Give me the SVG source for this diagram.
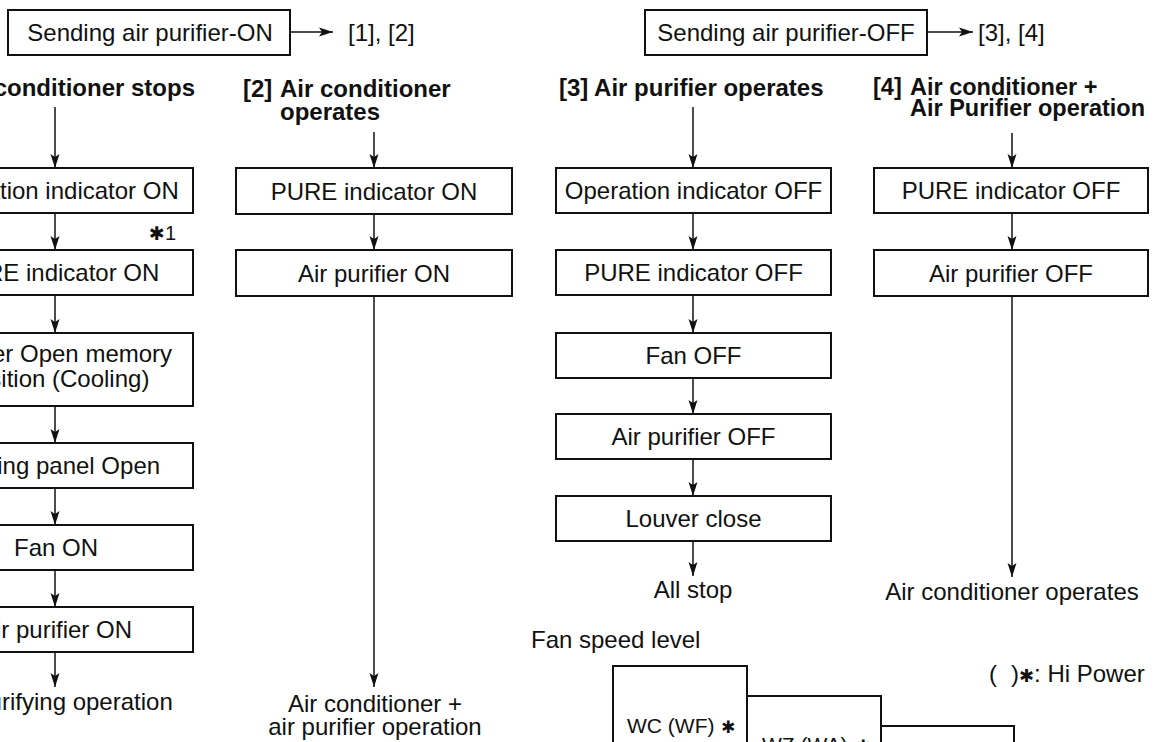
<svg xmlns="http://www.w3.org/2000/svg" width="1156" height="742" viewBox="0 0 1156 742">
<style>
text{font-family:"Liberation Sans",Arial,sans-serif;font-size:24px;fill:#111}
.b{font-weight:bold}
.c{text-anchor:middle}
.t4{font-size:23.5px}
.fs{font-size:21px}
.star{font-family:"DejaVu Sans",sans-serif;font-weight:bold}
rect.n{fill:#fff;stroke:#111;stroke-width:2}
.fan{fill:none;stroke:#111;stroke-width:2}
#connectors line{stroke:#111;stroke-width:1.5;fill:none;marker-end:url(#ah)}
</style>
<defs>
<marker id="ah" viewBox="0 0 16 12" markerWidth="16" markerHeight="12" refX="15" refY="6" orient="auto" markerUnits="userSpaceOnUse">
<path d="M15,6 L1,1.5 L4,6 L1,10.5 Z" fill="#111"/>
</marker>
</defs>
<rect width="1156" height="742" fill="#fff"/>

<g id="connectors">
<line x1="290" y1="32" x2="333" y2="32"/>
<line x1="927" y1="32" x2="973" y2="32"/>
<line x1="55" y1="107" x2="55" y2="168"/>
<line x1="55" y1="213" x2="55" y2="250"/>
<line x1="55" y1="295" x2="55" y2="333"/>
<line x1="55" y1="406" x2="55" y2="443"/>
<line x1="55" y1="488" x2="55" y2="525"/>
<line x1="55" y1="570" x2="55" y2="607"/>
<line x1="55" y1="652" x2="55" y2="687"/>
<line x1="374" y1="132" x2="374" y2="168"/>
<line x1="374" y1="214" x2="374" y2="250"/>
<line x1="374" y1="296" x2="374" y2="687"/>
<line x1="693" y1="107" x2="693" y2="168"/>
<line x1="693" y1="213" x2="693" y2="250"/>
<line x1="693" y1="295" x2="693" y2="333"/>
<line x1="693" y1="378" x2="693" y2="414"/>
<line x1="693" y1="459" x2="693" y2="496"/>
<line x1="693" y1="541" x2="693" y2="576"/>
<line x1="1012" y1="133" x2="1012" y2="168"/>
<line x1="1012" y1="213" x2="1012" y2="250"/>
<line x1="1012" y1="296" x2="1012" y2="577"/>
</g>

<g id="send-on"><rect class="n" x="8" y="10" width="282" height="45"/><text class="c" x="150" y="41">Sending air purifier-ON</text></g>
<g id="label-12"><text x="348" y="41">[1], [2]</text></g>
<g id="send-off"><rect class="n" x="645" y="10" width="282" height="45"/><text class="c" x="786" y="41">Sending air purifier-OFF</text></g>
<g id="label-34"><text x="978" y="41">[3], [4]</text></g>

<g id="c1-title"><text class="b" x="195" y="96" text-anchor="end">[1] Air conditioner stops</text></g>
<g id="c1-n1"><rect class="n" x="-83" y="168" width="276" height="45"/><text class="c" x="56" y="199">Operation indicator ON</text></g>
<g id="c1-note"><text x="149" y="240"><tspan class="star" font-size="19">✱</tspan><tspan font-size="20">1</tspan></text></g>
<g id="c1-n2"><rect class="n" x="-83" y="250" width="276" height="45"/><text class="c" x="56" y="280.5">PURE indicator ON</text></g>
<g id="c1-n3"><rect class="n" x="-83" y="333" width="276" height="73"/><text class="c" x="56" y="361.5">Louver Open memory</text><text class="c" x="56" y="386.5">position (Cooling)</text></g>
<g id="c1-n4"><rect class="n" x="-83" y="443" width="276" height="45"/><text class="c" x="56" y="473.5">Moving panel Open</text></g>
<g id="c1-n5"><rect class="n" x="-83" y="525" width="276" height="45"/><text class="c" x="56" y="556">Fan ON</text></g>
<g id="c1-n6"><rect class="n" x="-83" y="607" width="276" height="45"/><text class="c" x="56" y="638">Air purifier ON</text></g>
<g id="c1-end"><text class="c" x="56" y="710">Air purifying operation</text></g>

<g id="c2-title"><text class="b" y="97"><tspan x="243">[2]</tspan><tspan x="280">Air conditioner</tspan></text><text class="b" x="280" y="120">operates</text></g>
<g id="c2-n1"><rect class="n" x="236" y="168" width="276" height="46"/><text class="c" x="374" y="199.5">PURE indicator ON</text></g>
<g id="c2-n2"><rect class="n" x="236" y="250" width="276" height="46"/><text class="c" x="374" y="281.5">Air purifier ON</text></g>
<g id="c2-end"><text class="c" x="375" y="711.5">Air conditioner +</text><text class="c" x="375" y="735">air purifier operation</text></g>

<g id="c3-title"><text class="b" x="559" y="96">[3] Air purifier operates</text></g>
<g id="c3-n1"><rect class="n" x="556" y="168" width="275" height="45"/><text class="c" x="693.5" y="199">Operation indicator OFF</text></g>
<g id="c3-n2"><rect class="n" x="556" y="250" width="275" height="45"/><text class="c" x="693.5" y="281">PURE indicator OFF</text></g>
<g id="c3-n3"><rect class="n" x="556" y="333" width="275" height="45"/><text class="c" x="693.5" y="364">Fan OFF</text></g>
<g id="c3-n4"><rect class="n" x="556" y="414" width="275" height="45"/><text class="c" x="693.5" y="445">Air purifier OFF</text></g>
<g id="c3-n5"><rect class="n" x="556" y="496" width="275" height="45"/><text class="c" x="693.5" y="527">Louver close</text></g>
<g id="c3-end"><text class="c" x="693" y="598">All stop</text></g>

<g id="c4-title"><text class="b t4" y="95"><tspan x="873">[4]</tspan><tspan x="910">Air conditioner +</tspan></text><text class="b t4" x="910" y="116">Air Purifier operation</text></g>
<g id="c4-n1"><rect class="n" x="874" y="168" width="274" height="45"/><text class="c" x="1011" y="199">PURE indicator OFF</text></g>
<g id="c4-n2"><rect class="n" x="874" y="250" width="274" height="46"/><text class="c" x="1011" y="281.5">Air purifier OFF</text></g>
<g id="c4-end"><text class="c" x="1012" y="600">Air conditioner operates</text></g>

<g id="fan-speed">
<text x="531" y="648">Fan speed level</text>
<text y="682"><tspan x="989">(</tspan><tspan x="1011">)</tspan><tspan class="star" font-size="18">✱</tspan><tspan>: Hi Power</tspan></text>
<rect class="fan" x="613" y="666" width="134" height="100"/>
<rect class="fan" x="747" y="696" width="134" height="100"/>
<rect class="fan" x="881" y="726" width="133" height="100"/>
<text class="fs" y="733"><tspan x="627">WC (WF)</tspan><tspan class="star" x="721" font-size="17">✱</tspan></text>
<text class="fs" y="752"><tspan x="762">WZ (WA)</tspan><tspan class="star" x="856" font-size="17">✱</tspan></text>
</g>
</svg>
